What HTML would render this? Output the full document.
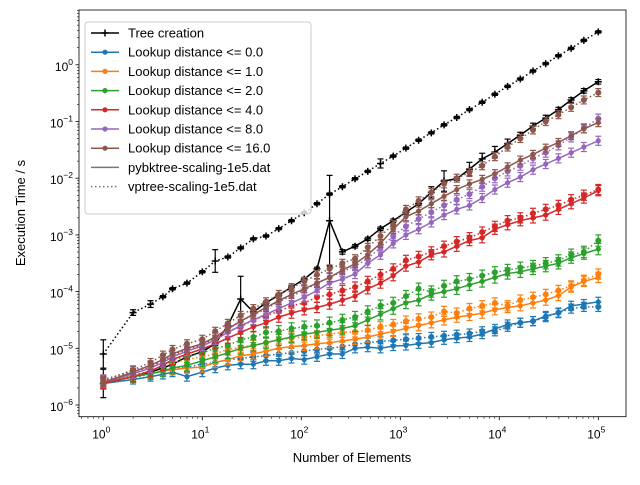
<!DOCTYPE html>
<html><head><meta charset="utf-8"><style>
body{margin:0;background:#fff}
svg{font-family:"Liberation Sans","DejaVu Sans",sans-serif}
</style></head><body>
<svg id="chart" width="640" height="480" viewBox="0 0 640 480" xmlns="http://www.w3.org/2000/svg">
<rect width="640" height="480" fill="#fff"/>
<g id="plot"></g>
<g id="axes"></g>
<g id="legend"></g>
</svg>
<script>
// ---- data (x values; y values stored as log10 of seconds) ----
const xValues = [1,2,3,4,5,7,10,13.5,18.1,24.4,32.8,44,59.2,79.6,107,144,193,260,349,469,631,848,1140,1531,2058,2766,3717,4996,6714,9023,12126,16297,21902,29434,39557,53162,71444,100000];
const seriesNames = ["Tree creation","Lookup distance <= 0.0","Lookup distance <= 1.0","Lookup distance <= 2.0","Lookup distance <= 4.0","Lookup distance <= 8.0","Lookup distance <= 16.0"];
const seriesColors = ["#000000","#1f77b4","#ff7f0e","#2ca02c","#d62728","#9467bd","#8c564b"];
// pybktree (solid)
const pybCreateLog = [-5.62,-5.5,-5.42,-5.35,-5.28,-5.15,-5.06,-4.92,-4.6,-4.13,-4.36,-4.2,-4.06,-3.92,-3.78,-3.6,-2.75,-3.3,-3.2,-3.07,-2.89,-2.75,-2.6,-2.45,-2.25,-2.05,-2.01,-1.84,-1.66,-1.54,-1.39,-1.24,-1.08,-0.94,-0.79,-0.62,-0.46,-0.3];
const pybD0Log = [-5.62,-5.55,-5.5,-5.46,-5.42,-5.5,-5.42,-5.35,-5.3,-5.28,-5.28,-5.22,-5.22,-5.18,-5.2,-5.15,-5.1,-5.1,-5.0,-4.98,-5.0,-4.96,-4.95,-4.92,-4.9,-4.85,-4.82,-4.8,-4.75,-4.66,-4.58,-4.55,-4.52,-4.43,-4.38,-4.25,-4.22,-4.18];
const pybD1Log = [-5.6,-5.5,-5.45,-5.4,-5.38,-5.35,-5.33,-5.25,-5.2,-5.13,-5.1,-5.05,-5.0,-4.97,-4.95,-4.92,-4.9,-4.87,-4.84,-4.8,-4.75,-4.7,-4.65,-4.6,-4.55,-4.5,-4.45,-4.42,-4.38,-4.32,-4.28,-4.25,-4.2,-4.15,-4.07,-3.92,-3.82,-3.75];
const pybD2Log = [-5.62,-5.5,-5.45,-5.4,-5.35,-5.3,-5.22,-5.15,-5.08,-5.0,-4.95,-4.9,-4.85,-4.8,-4.75,-4.72,-4.68,-4.65,-4.6,-4.5,-4.4,-4.3,-4.2,-4.15,-4.05,-4.0,-3.95,-3.88,-3.82,-3.75,-3.68,-3.65,-3.6,-3.55,-3.5,-3.4,-3.33,-3.25];
const pybD4Log = [-5.62,-5.5,-5.4,-5.3,-5.2,-5.1,-5.01,-4.92,-4.82,-4.72,-4.62,-4.55,-4.45,-4.38,-4.32,-4.28,-4.22,-4.15,-4.08,-3.95,-3.85,-3.72,-3.55,-3.48,-3.35,-3.3,-3.2,-3.1,-3.05,-2.9,-2.82,-2.75,-2.7,-2.65,-2.55,-2.45,-2.35,-2.22];
const pybD8Log = [-5.6,-5.45,-5.35,-5.25,-5.15,-5.05,-4.96,-4.85,-4.72,-4.6,-4.5,-4.4,-4.3,-4.2,-4.1,-3.98,-3.85,-3.78,-3.69,-3.5,-3.35,-3.15,-3.0,-2.9,-2.78,-2.65,-2.55,-2.48,-2.35,-2.2,-2.08,-1.98,-1.85,-1.75,-1.65,-1.55,-1.45,-1.34];
const pybD16Log = [-5.6,-5.42,-5.3,-5.2,-5.1,-5.0,-4.92,-4.8,-4.66,-4.52,-4.4,-4.28,-4.16,-4.05,-3.95,-3.85,-3.75,-3.62,-3.51,-3.35,-3.15,-2.9,-2.68,-2.58,-2.45,-2.32,-2.2,-2.1,-2.02,-1.92,-1.8,-1.68,-1.58,-1.47,-1.37,-1.25,-1.13,-1.02];
// vptree (dotted)
const vpCreateLog = [-5.1,-4.37,-4.22,-4.09,-3.95,-3.85,-3.65,-3.46,-3.39,-3.23,-3.07,-3.02,-2.89,-2.75,-2.61,-2.45,-2.28,-2.15,-2.01,-1.88,-1.74,-1.61,-1.47,-1.33,-1.2,-1.06,-0.93,-0.79,-0.66,-0.52,-0.38,-0.25,-0.11,0.02,0.16,0.29,0.43,0.58];
const vpD0Log = [-5.55,-5.52,-5.45,-5.4,-5.35,-5.33,-5.28,-5.25,-5.2,-5.18,-5.15,-5.13,-5.1,-5.08,-5.05,-5.02,-5.0,-4.97,-4.93,-4.9,-4.88,-4.86,-4.84,-4.82,-4.8,-4.78,-4.76,-4.74,-4.7,-4.7,-4.62,-4.55,-4.52,-4.45,-4.37,-4.3,-4.27,-4.27];
const vpD1Log = [-5.58,-5.48,-5.4,-5.3,-5.25,-5.2,-5.15,-5.1,-5.02,-4.98,-4.95,-4.9,-4.85,-4.82,-4.8,-4.78,-4.75,-4.72,-4.71,-4.68,-4.62,-4.58,-4.52,-4.48,-4.45,-4.35,-4.38,-4.3,-4.25,-4.2,-4.25,-4.15,-4.1,-4.05,-3.98,-3.9,-3.8,-3.69];
const vpD2Log = [-5.6,-5.48,-5.4,-5.32,-5.2,-5.15,-5.08,-5.0,-4.95,-4.85,-4.8,-4.72,-4.7,-4.65,-4.62,-4.6,-4.55,-4.5,-4.45,-4.35,-4.25,-4.2,-4.08,-3.95,-4.0,-3.9,-3.82,-3.78,-3.72,-3.66,-3.62,-3.58,-3.55,-3.5,-3.45,-3.35,-3.3,-3.1];
const vpD4Log = [-5.58,-5.45,-5.33,-5.22,-5.12,-5.02,-4.94,-4.82,-4.7,-4.62,-4.5,-4.42,-4.35,-4.25,-4.2,-4.1,-4.05,-3.98,-3.92,-3.82,-3.7,-3.6,-3.45,-3.38,-3.3,-3.2,-3.12,-3.05,-2.95,-2.85,-2.75,-2.7,-2.62,-2.55,-2.48,-2.38,-2.3,-2.2];
const vpD8Log = [-5.55,-5.4,-5.3,-5.2,-5.1,-5.0,-4.92,-4.8,-4.65,-4.52,-4.42,-4.3,-4.18,-4.08,-3.98,-3.85,-3.75,-3.65,-3.55,-3.42,-3.22,-3.02,-2.85,-2.72,-2.6,-2.48,-2.38,-2.28,-2.15,-2.0,-1.88,-1.78,-1.65,-1.55,-1.42,-1.28,-1.12,-0.95];
const vpD16Log = [-5.58,-5.38,-5.25,-5.12,-5.02,-4.92,-4.84,-4.7,-4.56,-4.42,-4.3,-4.18,-4.05,-3.93,-3.82,-3.7,-3.6,-3.5,-3.42,-3.22,-3.02,-2.82,-2.55,-2.4,-2.25,-2.1,-2.0,-1.9,-1.78,-1.62,-1.45,-1.3,-1.15,-1.0,-0.88,-0.75,-0.62,-0.49];
// error half-widths (log10) for tree creation series
const pybCreateErr = [0.25,0.03,0.03,0.03,0.03,0.03,0.03,0.03,0.03,0.4,0.03,0.03,0.03,0.03,0.03,0.03,0.8,0.04,0.03,0.03,0.03,0.03,0.03,0.03,0.1,0.18,0.03,0.12,0.1,0.1,0.08,0.05,0.05,0.05,0.04,0.04,0.04,0.04];
const vpCreateErr = [0.25,0.05,0.06,0.02,0.02,0.02,0.02,0.2,0.02,0.02,0.02,0.02,0.02,0.02,0.02,0.02,0.02,0.02,0.02,0.02,0.08,0.02,0.02,0.02,0.02,0.02,0.02,0.02,0.02,0.02,0.02,0.02,0.02,0.02,0.02,0.02,0.02,0.02];
const lookupErr = [0.08,0.08,0.09,0.1,0.09,0.08,0.07];
const xTickLabels = ["0","1","2","3","4","5"];
const yTickLabels = ["-6","-5","-4","-3","-2","-1","0"];

// ---- axes functions ----
const L=79, R=626, T=10, B=416.7;
function xPx(x){return 103.3+99*Math.log10(x);}
function yPxLog(l){return 405-56.7*(l+6);}
const NS="http://www.w3.org/2000/svg";
function mk(tag,attrs,parent){const e=document.createElementNS(NS,tag);for(const k in attrs)e.setAttribute(k,attrs[k]);parent.appendChild(e);return e;}
const plot=document.getElementById('plot'), axes=document.getElementById('axes'), leg=document.getElementById('legend');
const cp=mk('clipPath',{id:'clip'},plot);
mk('rect',{x:L,y:T,width:R-L,height:B-T},cp);
const g=mk('g',{'clip-path':'url(#clip)'},plot);

function drawSeries(logs,errs,color,dotted,marker,name){
  const sg=mk('g',{},g);
  
  
  const pts=logs.map((l,i)=>xPx(xValues[i]).toFixed(1)+','+yPxLog(l).toFixed(1)).join(' ');
  const line=mk('polyline',{points:pts,fill:'none',stroke:color,'stroke-width':1.5,'stroke-dasharray':dotted?'1.5,2.5':'none'},sg);
  
  
  logs.forEach((l,i)=>{
    const x=xPx(xValues[i]), y=yPxLog(l), e=Array.isArray(errs)?errs[i]:errs;
    const y1=yPxLog(l+e), y2=yPxLog(l-e);
    mk('line',{x1:x,x2:x,y1:y1,y2:y2,stroke:color,'stroke-width':1.2},sg);
    mk('line',{x1:x-3,x2:x+3,y1:y1,y2:y1,stroke:color,'stroke-width':1.2},sg);
    mk('line',{x1:x-3,x2:x+3,y1:y2,y2:y2,stroke:color,'stroke-width':1.2},sg);
    let m;
    if(marker==='+'){
      m=mk('path',{d:`M${x-3.5},${y}H${x+3.5}M${x},${y-3.5}V${y+3.5}`,stroke:color,'stroke-width':1.5},sg);
    } else {
      m=mk('circle',{cx:x,cy:y,r:dotted?3:2.6,fill:color},sg);
    }
    
    
  });
}
const pybLogs=[pybCreateLog,pybD0Log,pybD1Log,pybD2Log,pybD4Log,pybD8Log,pybD16Log];
const vpLogs=[vpCreateLog,vpD0Log,vpD1Log,vpD2Log,vpD4Log,vpD8Log,vpD16Log];
for(let s=0;s<7;s++){
  drawSeries(pybLogs[s], s===0?pybCreateErr:lookupErr[s], seriesColors[s], false, s===0?'+':'o', 'pybktree-series-'+s);
  drawSeries(vpLogs[s], s===0?vpCreateErr:lookupErr[s], seriesColors[s], true, s===0?'+':'o', 'vptree-series-'+s);
}

// ---- axes ----
const frame=mk('rect',{x:L,y:T,width:R-L,height:B-T,fill:'none',stroke:'#000','stroke-width':0.8},axes);


xTickLabels.forEach(t=>{
  const p=+t, x=xPx(Math.pow(10,p));
  mk('line',{x1:x,x2:x,y1:B,y2:B+3.5,stroke:'#000','stroke-width':0.8},axes);
  const tx=mk('text',{x:x-2,y:B+22,'font-size':12,'text-anchor':'middle'},axes);
  
  
  tx.innerHTML='10<tspan dy="-6" font-size="8.5">'+t+'</tspan>';
});
for(let p=-1;p<6;p++)for(let k=2;k<10;k++){const x=xPx(k*Math.pow(10,p));if(x>L&&x<R)mk('line',{x1:x,x2:x,y1:B,y2:B+2,stroke:'#000','stroke-width':0.6},axes);}
yTickLabels.forEach(t=>{
  const p=+t, y=yPxLog(p);
  mk('line',{x1:L-3.5,x2:L,y1:y,y2:y,stroke:'#000','stroke-width':0.8},axes);
  const ty=mk('text',{x:L-6,y:y+6,'font-size':12,'text-anchor':'end'},axes);
  
  
  ty.innerHTML='10<tspan dy="-6" font-size="8.5">'+(p<0?'\u2212'+(-p):p)+'</tspan>';
});
for(let p=-7;p<1;p++)for(let k=2;k<10;k++){const y=yPxLog(p+Math.log10(k));if(y>T&&y<B)mk('line',{x1:L-2,x2:L,y1:y,y2:y,stroke:'#000','stroke-width':0.6},axes);}
const xt=mk('text',{x:352,y:462,'font-size':13,'text-anchor':'middle'},axes);
xt.textContent='Number of Elements';


const yt=mk('text',{x:0,y:0,'font-size':13,'text-anchor':'middle',transform:'translate(25,213) rotate(-90)'},axes);
yt.textContent='Execution Time / s';



// ---- legend ----
const lb=mk('rect',{x:85,y:22,width:226,height:192,rx:3,fill:'#fff','fill-opacity':0.8,stroke:'#ccc','stroke-width':1},leg);


const legLabels=seriesNames.concat(["pybktree-scaling-1e5.dat","vptree-scaling-1e5.dat"]);
legLabels.forEach((t,i)=>{
  const y=33+i*19.2;
  const eg=mk('g',{},leg);
  
  
  const c=i<7?seriesColors[i]:'#777';
  mk('line',{x1:91,x2:119,y1:y,y2:y,stroke:c,'stroke-width':1.5,'stroke-dasharray':i===8?'1.5,2.5':'none'},eg);
  if(i===0)mk('path',{d:`M101.5,${y}h7M105,${y-3.5}v7`,stroke:'#000','stroke-width':1.5},eg);
  else if(i<7)mk('circle',{cx:105,cy:y,r:2.6,fill:c},eg);
  const tt=mk('text',{x:128,y:y+4.5,'font-size':13},eg);
  tt.textContent=t;
});
</script>
</body></html>
